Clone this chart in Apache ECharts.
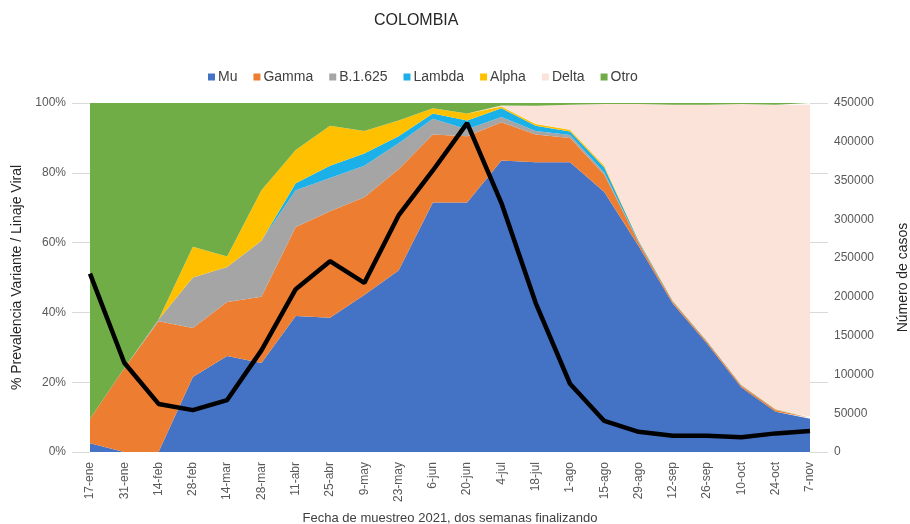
<!DOCTYPE html>
<html>
<head>
<meta charset="utf-8">
<script src="https://cdn.jsdelivr.net/npm/echarts@6/dist/echarts.min.js"></script>
<style>html,body{margin:0;padding:0;background:#fff}#c{width:910px;height:524px}</style>
</head>
<body>
<div id="c"></div>
<script>
const categories = ['17-ene','31-ene','14-feb','28-feb','14-mar','28-mar','11-abr','25-abr','9-may','23-may','6-jun','20-jun','4-jul','18-jul','1-ago','15-ago','29-ago','12-sep','26-sep','10-oct','24-oct','7-nov'];
const mu     = [2.5, 0, 0, 21.5, 27.5, 25.5, 39, 38.5, 45, 52, 71.5, 71.5, 83.5, 83, 83, 74.5, 59, 42.5, 31, 18.5, 11.5, 9.5];
const gamma  = [7, 24, 37.5, 14, 15.5, 19, 25.5, 30.5, 28, 29, 19.5, 19, 11, 8, 7, 5, 1, 0.5, 0.5, 0.5, 0.5, 0.3];
const b1625  = [0, 0, 0.5, 14.5, 10, 16, 10.5, 9.5, 9, 7.5, 4.5, 2, 1.5, 1, 0.8, 0.5, 0.2, 0.1, 0.1, 0.1, 0.1, 0.1];
const lambda = [0, 0, 0, 0, 0, 0, 2, 3.5, 3.5, 2, 1.5, 2.5, 2.5, 1.5, 1, 1.5, 0.3, 0.2, 0.1, 0.1, 0.1, 0.1];
const alpha  = [0, 0, 0, 8.8, 3, 14.5, 9.5, 11.5, 6.5, 4.5, 1.5, 2, 0.5, 0.5, 0.5, 0.5, 0.2, 0.1, 0.1, 0.1, 0.1, 0.1];
const delta  = [0, 0, 0, 0, 0, 0, 0, 0, 0, 0, 0, 0, 0.3, 5.2, 7.2, 17.7, 39, 56.1, 67.7, 80.4, 87.2, 89.4];
const otro   = [90.5, 76, 62, 41.2, 44, 25, 13.5, 6.5, 8, 5, 1.5, 3, 0.7, 0.8, 0.5, 0.3, 0.3, 0.5, 0.5, 0.3, 0.5, 0.5];
const casos  = [230000, 115000, 62000, 54000, 67000, 131000, 210000, 246000, 218000, 305000, 363000, 424000, 321000, 192000, 88000, 40000, 26000, 21000, 21000, 19000, 24000, 27000];
const pctTicks = [0, 20, 40, 60, 80, 100];
const caseTicks = [0, 50000, 100000, 150000, 200000, 250000, 300000, 350000, 400000, 450000];

const variantSeries = [
  ['Mu', mu, '#4472C4'],
  ['Gamma', gamma, '#ED7D31'],
  ['B.1.625', b1625, '#A5A5A5'],
  ['Lambda', lambda, '#1BB0E8'],
  ['Alpha', alpha, '#FFC000'],
  ['Delta', delta, '#FBE3D9'],
  ['Otro', otro, '#70AD47']
];

const font = 'Liberation Sans, Arial, sans-serif';
const chart = echarts.init(document.getElementById('c'));
const series = variantSeries.map(([name, data, color]) => ({
  name, type: 'line', stack: 'v', data,
  yAxisIndex: 0, symbol: 'none', showSymbol: false,
  lineStyle: {width: 0}, itemStyle: {color},
  areaStyle: {color, opacity: 1}, z: 2
}));
series.push({
  name: 'Casos', type: 'line', data: casos, yAxisIndex: 1,
  symbol: 'none', lineStyle: {color: '#000', width: 4.5}, itemStyle: {color: '#000'}, z: 5
});

chart.setOption({
  animation: false,
  title: {text: 'COLOMBIA', left: 369, top: 8, textStyle: {fontFamily: font, fontSize: 16, fontWeight: 'normal', color: '#262626'}},
  legend: {
    data: variantSeries.map(s => s[0]), left: 203, top: 65, itemWidth: 7, itemHeight: 7, itemGap: 16,
    icon: 'rect', textStyle: {fontFamily: font, fontSize: 14, color: '#404040', padding: [0, 0, 0, -2]}
  },
  grid: {left: 90, right: 100, top: 103, bottom: 72, containLabel: false, outerBoundsMode: 'none'},
  xAxis: {
    type: 'category', data: categories, boundaryGap: false,
    name: 'Fecha de muestreo 2021, dos semanas finalizando', nameLocation: 'middle', nameGap: 60,
    nameTextStyle: {fontFamily: font, fontSize: 13, color: '#404040'},
    axisLine: {show: false}, axisTick: {show: false},
    axisLabel: {rotate: 90, interval: 0, fontFamily: font, fontSize: 12, color: '#595959', margin: 10}
  },
  yAxis: [
    {
      type: 'value', min: 0, max: 100, interval: 20, position: 'left',
      name: '% Prevalencia Variante / Linaje Viral', nameLocation: 'middle', nameGap: 64, nameRotate: 90,
      nameTextStyle: {fontFamily: font, fontSize: 14, color: '#262626'},
      axisLine: {show: false},
      axisTick: {show: true, length: 18, lineStyle: {color: '#d9d9d9'}},
      splitLine: {show: false},
      axisLabel: {formatter: v => pctTicks.includes(v) ? v + '%' : '', fontFamily: font, fontSize: 12, color: '#595959', margin: 24}
    },
    {
      type: 'value', min: 0, max: 450000, interval: 50000, position: 'right',
      name: 'Número de casos', nameLocation: 'middle', nameGap: 86, nameRotate: 90,
      nameTextStyle: {fontFamily: font, fontSize: 14, color: '#262626'},
      axisLine: {show: false}, axisTick: {show: false}, splitLine: {show: false},
      axisLabel: {formatter: v => caseTicks.includes(v) ? String(v) : '', fontFamily: font, fontSize: 12, color: '#595959', margin: 24}
    },
    {
      type: 'value', min: 0, max: 100, interval: 20, position: 'right', show: true,
      axisLine: {show: false}, axisLabel: {show: false}, splitLine: {show: false},
      axisTick: {show: true, length: 18, lineStyle: {color: '#d9d9d9'}}
    }
  ],
  series
});
</script>
</body>
</html>
